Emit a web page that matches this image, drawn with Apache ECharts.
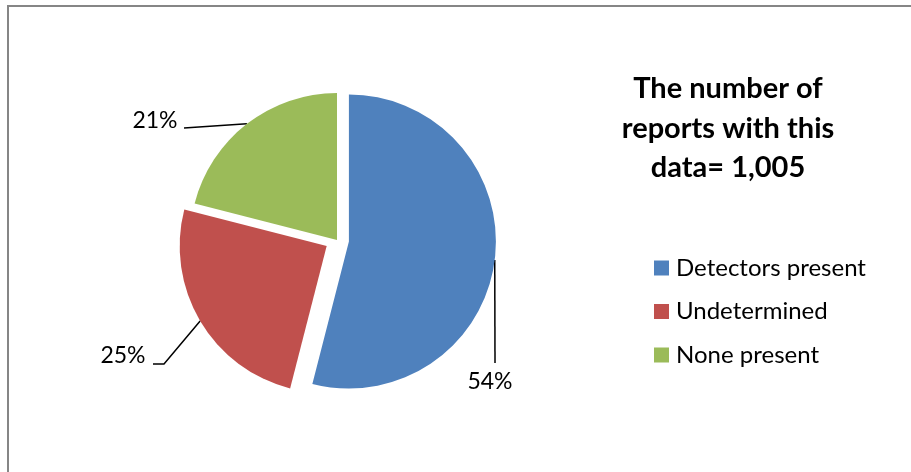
<!DOCTYPE html>
<html><head><meta charset="utf-8">
<script src="https://cdn.jsdelivr.net/npm/echarts@6/dist/echarts.min.js"></script>
<style>html,body{margin:0;padding:0;background:#fff}#c{width:911px;height:472px}</style>
</head><body><div id="c"></div>
<script>
var categories = ['Detectors present', 'Undetermined', 'None present'];
var values = [54, 25, 21];
var exploded = [true, true, false];
var titleLines = ['The number of', 'reports with this', 'data= 1,005'];

var colors = ['#4F81BD', '#C0504D', '#9BBB59'];
var pieCenter = [337, 240];
var pieRadius = 147;
var explodeOffset = 12;
// label text centres and leader-line bends (layout only)
var labelPos = [[490, 382], [123, 356], [155, 121]];
var lineBends = [[[495, 363]], [[164, 364], [153, 364]], [[184, 128]]];

var chart = echarts.init(document.getElementById('c'), null, {renderer: 'canvas'});
var font = 'Lato, "Open Sans", sans-serif';
var pieData = categories.map(function (n, i) { return {name: n, value: values[i], selected: exploded[i]}; });
chart.setOption({
  animation: false,
  color: colors,
  title: {
    text: titleLines.join('\n'),
    left: 723, top: 64, textAlign: 'center',
    textStyle: {fontFamily: font, fontWeight: 'bold', fontSize: 29, lineHeight: 39.5, color: '#000'}
  },
  legend: {
    orient: 'vertical', left: 649, top: 251,
    itemWidth: 15, itemHeight: 15, itemGap: 19.5, icon: 'rect',
    textStyle: {fontFamily: font, fontSize: 24, color: '#000', padding: [0, 0, 0, 2]},
    data: categories
  },
  graphic: [{
    type: 'rect', shape: {x: 8, y: 6, width: 1000, height: 600},
    style: {fill: 'none', stroke: '#868686', lineWidth: 2}, silent: true
  }],
  series: [{
    type: 'pie',
    center: pieCenter, radius: pieRadius,
    startAngle: 90, clockwise: true,
    selectedMode: 'multiple', selectedOffset: explodeOffset,
    data: pieData,
    itemStyle: {borderWidth: 0},
    label: {show: false},
    labelLine: {show: false}
  }, {
    // label layer: same data and scale, no visible sectors
    type: 'pie', silent: true,
    center: pieCenter, radius: pieRadius,
    startAngle: 90, clockwise: true,
    selectedMode: false,
    data: categories.map(function (n, i) { return {name: n, value: values[i]}; }),
    itemStyle: {color: 'rgba(0,0,0,0)', borderWidth: 0},
    emphasis: {disabled: true},
    label: {show: true, position: 'outside', formatter: '{c}%', fontFamily: font, fontSize: 23, color: '#000'},
    labelLine: {show: true, length: 20, length2: 20, lineStyle: {color: '#000', width: 1.5}},
    labelLayout: function (p) {
      var i = p.dataIndex;
      var s = p.labelLinePoints[0];
      var k = exploded[i] ? explodeOffset / pieRadius : 0;
      var start = [s[0] + (s[0] - pieCenter[0]) * k, s[1] + (s[1] - pieCenter[1]) * k];
      return {
        x: labelPos[i][0], y: labelPos[i][1], align: 'center', verticalAlign: 'middle',
        labelLinePoints: [start].concat(lineBends[i])
      };
    }
  }]
});
</script></body></html>
